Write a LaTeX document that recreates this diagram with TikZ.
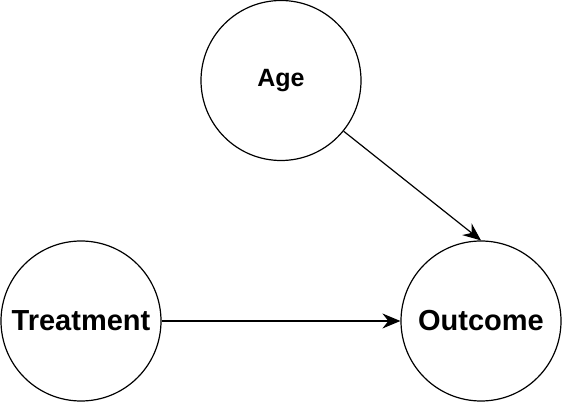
\documentclass[tikz,border=0pt]{standalone}
\usepackage{fontspec}
\setmainfont{Liberation Sans}
\usetikzlibrary{arrows.meta}

\tikzset{
  var/.style={draw,circle,line width=1.2pt,minimum size=160pt,inner sep=0pt,
    font=\fontsize{29}{33}\selectfont\bfseries},
  cause/.style={line width=1.2pt,-{Stealth[length=18pt,width=15pt,inset=6pt]}}
}

\begin{document}
\begin{tikzpicture}[x=1pt,y=1pt]
\useasboundingbox (0,0) rectangle (562,404);

\node[var,font=\fontsize{25}{29}\selectfont\bfseries] (age) at (281,323.5) {Age}; % confounder
\node[var] (treatment) at (81,83) {Treatment};
\node[var] (outcome) at (481,83) {Outcome};

\draw[cause] (age.-39) -- (outcome.north);
\draw[cause] (treatment.east) -- (outcome.west);

\end{tikzpicture}
\end{document}
